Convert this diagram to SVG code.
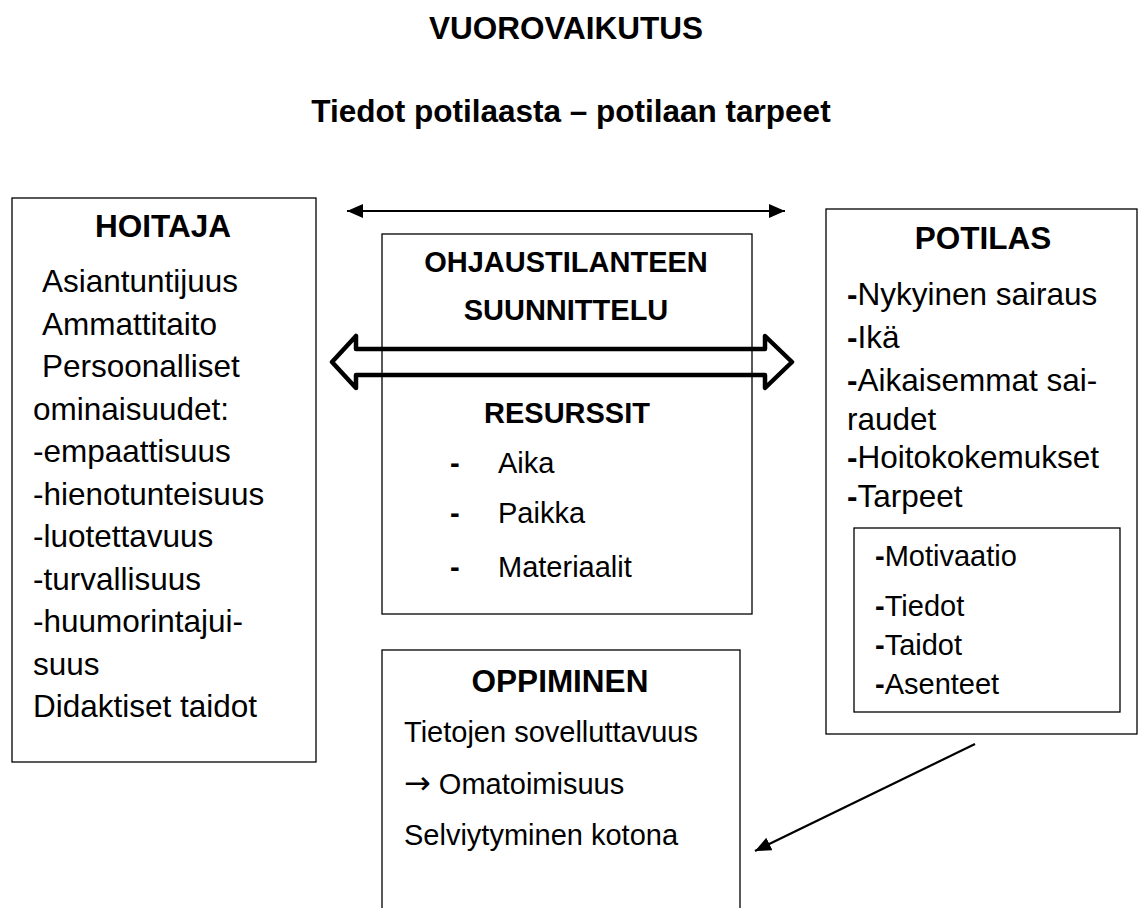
<svg xmlns="http://www.w3.org/2000/svg" width="1139" height="908" viewBox="0 0 1139 908">
<defs>
<style>
text{font-family:"Liberation Sans",Arial,sans-serif;fill:#000}
.t{font-weight:bold;font-size:31.5px;text-anchor:middle}
.h{font-weight:bold;font-size:31.5px;text-anchor:middle}
.hm{font-weight:bold;font-size:29px;text-anchor:middle}
.b{font-size:31.5px}
.m{font-size:29px}
.box{fill:#fff;stroke:#000;stroke-width:1.3}
.bd{font-weight:bold}
.ar{font-family:"DejaVu Sans",sans-serif;font-size:32px}
</style>
<marker id="ah" markerUnits="userSpaceOnUse" markerWidth="18" markerHeight="16" refX="16" refY="7" orient="auto-start-reverse">
<path d="M0,0 L16,7 L0,14 z" fill="#000"/>
</marker>
</defs>
<rect width="1139" height="908" fill="#fff"/>
<g id="titles">
<text class="t" x="566" y="39">VUOROVAIKUTUS</text>
<text class="t" x="571" y="122">Tiedot potilaasta – potilaan tarpeet</text>
</g>
<g id="hoitaja">
<rect class="box" x="12" y="198" width="304" height="564"/>
<text class="h" x="163" y="237">HOITAJA</text>
<text class="b" x="42" y="292">Asiantuntijuus</text>
<text class="b" x="42" y="334.5">Ammattitaito</text>
<text class="b" x="42" y="377">Persoonalliset</text>
<text class="b" x="33" y="419.5">ominaisuudet:</text>
<text class="b" x="33" y="462">-empaattisuus</text>
<text class="b" x="33" y="504.5">-hienotunteisuus</text>
<text class="b" x="33" y="547">-luotettavuus</text>
<text class="b" x="33" y="589.5">-turvallisuus</text>
<text class="b" x="33" y="632">-huumorintajui-</text>
<text class="b" x="33" y="674.5">suus</text>
<text class="b" x="33" y="717">Didaktiset taidot</text>
</g>
<g id="suunnittelu">
<rect class="box" x="382" y="234" width="370" height="380"/>
<text class="hm" x="566" y="272">OHJAUSTILANTEEN</text>
<text class="hm" x="566" y="320">SUUNNITTELU</text>
<text class="hm" x="567" y="423">RESURSSIT</text>
<text class="m bd" x="450" y="473">-</text>
<text class="m" x="498" y="473">Aika</text>
<text class="m bd" x="450" y="523">-</text>
<text class="m" x="498" y="523">Paikka</text>
<text class="m bd" x="450" y="577">-</text>
<text class="m" x="498" y="577">Materiaalit</text>
</g>
<g id="potilas">
<rect class="box" x="826" y="209" width="311" height="525"/>
<text class="h" x="983" y="249">POTILAS</text>
<text class="b" x="847" y="305"><tspan class="bd">-</tspan>Nykyinen sairaus</text>
<text class="b" x="847" y="348"><tspan class="bd">-</tspan>Ikä</text>
<text class="b" x="847" y="391"><tspan class="bd">-</tspan>Aikaisemmat sai-</text>
<text class="b" x="847" y="430">raudet</text>
<text class="b" x="847" y="468"><tspan class="bd">-</tspan>Hoitokokemukset</text>
<text class="b" x="847" y="507"><tspan class="bd">-</tspan>Tarpeet</text>
<rect class="box" x="854" y="528" width="266" height="184"/>
<text class="m" x="875" y="566"><tspan class="bd">-</tspan>Motivaatio</text>
<text class="m" x="875" y="616"><tspan class="bd">-</tspan>Tiedot</text>
<text class="m" x="875" y="655"><tspan class="bd">-</tspan>Taidot</text>
<text class="m" x="875" y="694"><tspan class="bd">-</tspan>Asenteet</text>
</g>
<g id="oppiminen">
<rect class="box" x="382" y="650" width="358" height="270"/>
<text class="h" x="560" y="692">OPPIMINEN</text>
<text class="m" x="404" y="742">Tietojen sovelluttavuus</text>
<text class="m" x="404" y="794"><tspan class="ar">→</tspan> Omatoimisuus</text>
<text class="m" x="404" y="845">Selviytyminen kotona</text>
</g>
<g id="connectors" stroke="#000" fill="none">
<line x1="347" y1="211" x2="785" y2="211" stroke-width="2.2" marker-start="url(#ah)" marker-end="url(#ah)"/>
<path d="M332,362 L356,336 L356,349 L765,349 L765,336 L792,362 L765,388 L765,375 L356,375 L356,388 Z" stroke-width="4.5" stroke-linejoin="round"/>
<line x1="975" y1="744" x2="755" y2="851" stroke-width="2.2" marker-end="url(#ah)"/>
</g>
</svg>
